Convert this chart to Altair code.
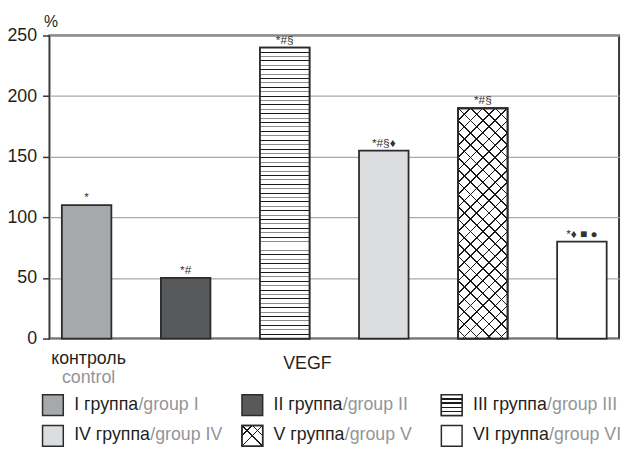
import math
import altair as alt
import pandas as pd

# ---------------- data ----------------
groups = ["I", "II", "III", "IV", "V", "VI"]
values = [110, 50, 240, 155, 190, 80]
signif = ["*", "*#", "*#§", "*#§♦", "*#§", "*♦ ■ ●"]
bar_fills = ["#a7a8aa", "#58595b", "#ffffff", "#dcdddf", "#ffffff", "#ffffff"]
legend_ru = ["I группа", "II группа", "III группа", "IV группа", "V группа", "VI группа"]
legend_en = ["/group I", "/group II", "/group III", "/group IV", "/group V", "/group VI"]
cat_ru = ["контроль", "VEGF"]
cat_en = ["control", ""]
cat_group = ["I", "III"]
y_ticks = [0, 50, 100, 150, 200, 250]
y_max = 250

# ---------------- layout / style ----------------
W, H = 577, 307
FONT = "Liberation Sans"
INK = "#231f20"
GREY_TXT = "#939598"
EDGE = "#2b2b2b"
P_IN, P_OUT = 0.5, 0.125
step = W / (len(groups) - P_IN + 2 * P_OUT)
bw = step * (1 - P_IN)

# Arial / Liberation Sans advance widths (1/1000 em)
AW = {" ": 278, "I": 278, "V": 667, "/": 278, "g": 556, "r": 333, "o": 556,
      "u": 556, "p": 556, "г": 365, "р": 556, "у": 500, "п": 542, "а": 556}


def text_w(s, size):
    return sum(AW.get(c, 556) for c in s) * size / 1000.0


def stops(pairs):
    return [alt.GradientStop(offset=max(0.0, min(1.0, o)), color=c) for o, c in pairs]


def h_stripes(centers, thick, colors, bg):
    pr = []
    for i, t in enumerate(centers):
        c = colors[i % len(colors)]
        a, b = t - thick / 2, t + thick / 2
        pr += [(a, bg), (a, c), (b, c), (b, bg)]
    return alt.LinearGradient(gradient="linear", x1=0, y1=0, x2=0, y2=1, stops=stops(pr))


def diag(w, h, ts, thick_px, color, flip):
    k = (w + h) / (w * w + h * h)
    a, b = k * w, k * h
    L = w + h
    dt = thick_px * math.sqrt(2) / L
    bg = "rgba(255,255,255,0)"
    pr = []
    for t in ts:
        pr += [(t - dt / 2, bg), (t - dt / 2, color), (t + dt / 2, color), (t + dt / 2, bg)]
    if flip:
        return alt.LinearGradient(gradient="linear", x1=1, y1=0, x2=1 - a, y2=b, stops=stops(pr))
    return alt.LinearGradient(gradient="linear", x1=0, y1=0, x2=a, y2=b, stops=stops(pr))


# pattern for group III bar: horizontal lines, alternating dark / grey
h3 = values[groups.index("III")] / y_max * H
n3 = int(h3 // 4.47)
stripe_bar = h_stripes([(i + 1) / (n3 + 1) for i in range(n3)], 1.0 / h3,
                       ["#1a1a1a", "#8c8c8c"], "#ffffff")
# crosshatch for group V bar
h5 = values[groups.index("V")] / y_max * H
per = 12.5
n5 = int((bw + h5) // per)
ts5 = [j * per / (bw + h5) for j in range(1, n5 + 1)]
cross_a = diag(bw, h5, ts5, 1.1, "#1a1a1a", False)
cross_b = diag(bw, h5, ts5, 1.1, "#1a1a1a", True)

# legend swatch patterns
SW = 21
stripe_sw = h_stripes([0.2, 0.4, 0.6, 0.8], 1.3 / SW, ["#1a1a1a"], "#ffffff")
cross_sw_a = diag(SW, SW, [0.25, 0.5], 1.2, "#1a1a1a", False)
cross_sw_b = diag(SW, SW, [0.25, 0.5], 1.2, "#1a1a1a", True)

# ---------------- tables ----------------
bars = pd.DataFrame({"group": groups, "value": values, "sig": signif})

leg_rows = []
for i, g in enumerate(groups):
    col, row = i % 3, i // 3
    lx = -7 + col * 202
    ly = 364 + row * 31
    tx = lx + 32
    leg_rows.append({"group": g, "ru": legend_ru[i], "en": legend_en[i],
                     "lx": lx, "lx2": lx + SW, "ly": ly, "ly2": ly + SW,
                     "tx": tx, "ty": ly + 15, "ex": tx + text_w(legend_ru[i], 18)})
leg = pd.DataFrame(leg_rows)
cats = pd.DataFrame({"group": cat_group, "ru": cat_ru, "en": cat_en})

xs = alt.Scale(domain=groups, paddingInner=P_IN, paddingOuter=P_OUT)
ys = alt.Scale(domain=[0, y_max], nice=False, zero=True)
fs = alt.Scale(domain=groups, range=bar_fills)

X = alt.X("group:N", scale=xs, axis=None, sort=groups)
Y = alt.Y("value:Q", scale=ys,
          axis=alt.Axis(values=y_ticks, grid=True, gridColor="#a9a9a9", gridWidth=1.3,
                        domain=False, tickSize=7, tickColor="#333333", tickWidth=1.5,
                        labelPadding=6, labelFontSize=18, labelFont=FONT, labelColor=INK,
                        title="%", titleAngle=0, titleX=1, titleY=-14, titleAlign="center",
                        titleBaseline="middle", titleFontSize=16, titleFont=FONT,
                        titleFontWeight="normal", titleColor=INK))

base = alt.Chart(bars)
bar_layer = base.mark_bar(stroke=EDGE, strokeWidth=1.8).encode(
    x=X, y=Y, fill=alt.Fill("group:N", scale=fs, legend=None))
bar3 = base.transform_filter(alt.datum.group == "III").mark_bar(
    fill=stripe_bar, stroke=EDGE, strokeWidth=1.8).encode(x=X, y=alt.Y("value:Q", scale=ys))
bar5a = base.transform_filter(alt.datum.group == "V").mark_bar(
    fill=cross_a, strokeWidth=0).encode(x=X, y=alt.Y("value:Q", scale=ys))
bar5b = base.transform_filter(alt.datum.group == "V").mark_bar(
    fill=cross_b, stroke=EDGE, strokeWidth=1.8).encode(x=X, y=alt.Y("value:Q", scale=ys))
sig_layer = base.mark_text(baseline="alphabetic", dy=-4, fontSize=12, font=FONT,
                           color="#333333").encode(x=X, y=alt.Y("value:Q", scale=ys), text="sig:N")

cat_base = alt.Chart(cats)
ctrl_ru = cat_base.transform_filter(alt.datum.group == "I").mark_text(
    baseline="alphabetic", fontSize=18, font=FONT, color=INK, dx=2,
    y=333).encode(x=X, text="ru:N")
ctrl_en = cat_base.transform_filter(alt.datum.group == "I").mark_text(
    baseline="alphabetic", fontSize=18, font=FONT, color=GREY_TXT, dx=2,
    y=352).encode(x=X, text="en:N")
vegf = cat_base.transform_filter(alt.datum.group == "III").mark_text(
    baseline="alphabetic", fontSize=18, font=FONT, color=INK, dx=23,
    y=338).encode(x=X, text="ru:N")

lg = alt.Chart(leg)
PX = lambda f: alt.X(f, type="quantitative", scale=None, axis=None)
PY = lambda f: alt.Y(f, type="quantitative", scale=None, axis=None)
sw = lg.mark_rect(stroke=EDGE, strokeWidth=1.5).encode(
    x=PX("lx"), x2="lx2", y=PY("ly"), y2="ly2",
    fill=alt.Fill("group:N", scale=fs, legend=None))
sw3 = lg.transform_filter(alt.datum.group == "III").mark_rect(
    fill=stripe_sw, stroke=EDGE, strokeWidth=1.5).encode(x=PX("lx"), x2="lx2", y=PY("ly"), y2="ly2")
sw5a = lg.transform_filter(alt.datum.group == "V").mark_rect(
    fill=cross_sw_a, strokeWidth=0).encode(x=PX("lx"), x2="lx2", y=PY("ly"), y2="ly2")
sw5b = lg.transform_filter(alt.datum.group == "V").mark_rect(
    fill=cross_sw_b, stroke=EDGE, strokeWidth=1.5).encode(x=PX("lx"), x2="lx2", y=PY("ly"), y2="ly2")
lt_ru = lg.mark_text(align="left", baseline="alphabetic", fontSize=18, font=FONT,
                     color=INK).encode(x=PX("tx"), y=PY("ty"), text="ru:N")
lt_en = lg.mark_text(align="left", baseline="alphabetic", fontSize=18, font=FONT,
                     color=GREY_TXT).encode(x=PX("ex"), y=PY("ty"), text="en:N")

chart = alt.layer(
    bar_layer, bar3, bar5a, bar5b, sig_layer, ctrl_ru, ctrl_en, vegf,
    sw, sw3, sw5a, sw5b, lt_ru, lt_en
).properties(
    width=W, height=H,
    autosize=alt.AutoSizeParams(type="none"),
    padding={"left": 42, "top": 25, "right": 4, "bottom": 110},
    background="#ffffff",
).configure_view(stroke="#3a3a3a", strokeWidth=2)

chart.save("out.html", embed_options={"renderer": "svg", "actions": False})
